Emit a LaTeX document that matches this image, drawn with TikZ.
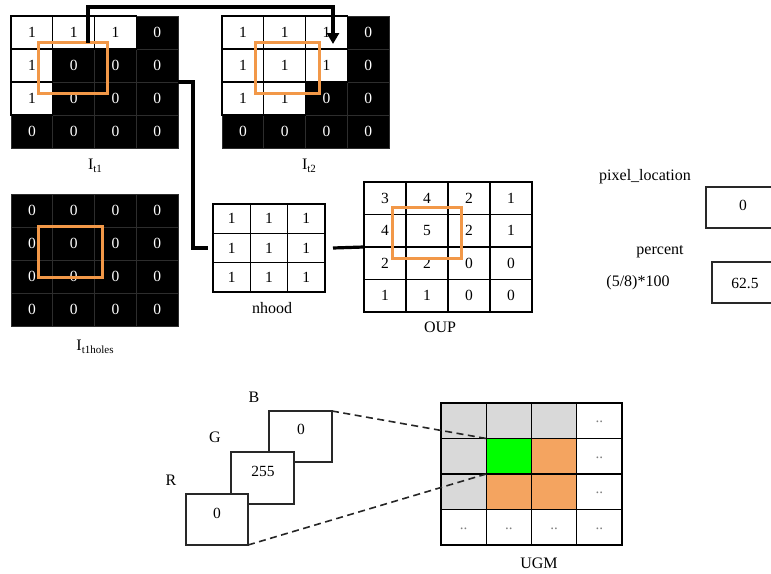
\documentclass[tikz,border=0pt]{standalone}
\usepackage{fontspec}
\setmainfont{Liberation Serif}
\usetikzlibrary{arrows.meta}

\definecolor{hiorange}{RGB}{242,152,72}
\definecolor{faintline}{RGB}{45,45,45}
\definecolor{boxline}{RGB}{40,40,40}
\colorlet{ugm-g}{black!15}
\definecolor{ugm-G}{RGB}{0,255,0}
\definecolor{ugm-o}{RGB}{244,164,96}
\colorlet{ugm-w}{white}

\newcommand{\digitfont}{\fontsize{15.5}{17}\selectfont}
\newcommand{\capfont}{\fontsize{16}{18}\selectfont}
\newcommand{\lowsub}[1]{\raisebox{-0.45ex}{\fontsize{11}{12}\selectfont #1}}

\tikzset{
  bincell/.style={minimum width=41.75pt, minimum height=33pt, inner sep=0pt,
    outer sep=0pt, font=\digitfont},
  numcell/.style={draw=black, fill=white, line width=1.4pt, inner sep=0pt,
    outer sep=0pt, font=\digitfont},
  gridframe/.style={inner sep=0pt, outer sep=0pt},
  hibox/.style={draw=hiorange, line width=3pt, inner sep=0pt, outer sep=0pt},
  figlabel/.style={inner sep=0pt, font=\capfont},
  valbox/.style={draw=boxline, fill=white, line width=1.6pt, inner sep=0pt, outer sep=0pt},
  valtext/.style={inner sep=0pt, font=\digitfont},
  conn/.style={draw=black, line width=3.2pt},
  dashline/.style={draw=black!85, line width=1.6pt, dash pattern=on 7pt off 4.5pt},
}

% binary 4x4 image: 0 = black pixel, 1 = white pixel
\newcommand{\bingrid}[4]{%
  \foreach \row [count=\j from 0] in {#4} {
    \foreach \v [count=\i from 0] in \row {
      \ifnum\v=0
        \node[bincell, fill=black, draw=faintline, line width=0.8pt, text=white]
          (#1-\i-\j) at ({#2+(\i+0.5)*41.75},{#3+(\j+0.5)*33}) {\v};
      \fi
    }
  }
  \foreach \row [count=\j from 0] in {#4} {
    \foreach \v [count=\i from 0] in \row {
      \ifnum\v=1
        \node[bincell, fill=white, draw=black, line width=1.4pt, text=black]
          (#1-\i-\j) at ({#2+(\i+0.5)*41.75},{#3+(\j+0.5)*33}) {\v};
      \fi
    }
  }
  \node[gridframe, minimum width=167pt, minimum height=132pt] (#1)
    at ({#2+83.5},{#3+66}) {};
}

% numeric grid: name, left, top, cell width, cell height, cols, rows, values
\newcommand{\numgrid}[8]{%
  \foreach \row [count=\j from 0] in {#8} {
    \foreach \v [count=\i from 0] in \row {
      \node[numcell, minimum width=#4pt, minimum height=#5pt]
        (#1-\i-\j) at ({#2+(\i+0.5)*#4},{#3+(\j+0.5)*#5}) {\v};
    }
  }
  \node[gridframe, minimum width={#6*#4pt}, minimum height={#7*#5pt}] (#1)
    at ({#2+#6*#4/2},{#3+#7*#5/2}) {};
}

\begin{document}
\begin{tikzpicture}[x=1pt, y=-1pt]
\useasboundingbox (0,0) rectangle (771,573);
\clip (0,0) rectangle (771,573);

% binary images
\bingrid{It1}{11}{16}{{1,1,1,0},{1,0,0,0},{1,0,0,0},{0,0,0,0}}
\bingrid{It2}{222}{16}{{1,1,1,0},{1,1,1,0},{1,1,0,0},{0,0,0,0}}
\bingrid{Ithol}{11}{194}{{0,0,0,0},{0,0,0,0},{0,0,0,0},{0,0,0,0}}

% neighbourhood and output grids
\numgrid{nhood}{213}{204}{37.33}{29.33}{3}{3}{{1,1,1},{1,1,1},{1,1,1}}
\numgrid{OUP}{364}{182}{42}{32.5}{4}{4}{{3,4,2,1},{4,5,2,1},{2,2,0,0},{1,1,0,0}}

% 3x3 windows
\node[hibox, minimum width=69pt, minimum height=51pt] (It1-win) at (72.5,67.5) {};
\node[hibox, minimum width=64pt, minimum height=51pt] (It2-win) at (287,67.5) {};
\node[hibox, minimum width=64pt, minimum height=51pt] (Ithol-win) at (70,251.5) {};
\node[hibox, minimum width=69pt, minimum height=51pt] (OUP-win) at (426.5,232.5) {};

% captions
\node[figlabel] (It1-cap) at (95,166) {I\lowsub{t1}};
\node[figlabel] (It2-cap) at (309,166) {I\lowsub{t2}};
\node[figlabel] (Ithol-cap) at (95,347) {I\lowsub{t1holes}};
\node[figlabel] (nhood-cap) at (272,308) {nhood};
\node[figlabel] (OUP-cap) at (440,327) {OUP};

% connectors
\coordinate (arrowstart) at (88,43);
\coordinate (arrowtop) at (210,7);
\coordinate (arrowend) at (333,44);
\draw[conn, line join=miter, -{Triangle[width=12pt,length=11pt]}]
  (arrowstart) |- (arrowtop) -| (arrowend);
\draw[conn] (It1.east) -- ++(15,0) |- ([xshift=-5pt]nhood.west);
\draw[conn] ([xshift=8pt]nhood.east) -- (OUP.west);

% result values
\node[figlabel] (pixloc-cap) at (645,177) {pixel\_location};
\node[valbox, minimum width=84pt, minimum height=41pt] (pixbox) at (748,207.5) {};
\node[valtext] (pixval) at (743,205) {0};
\node[figlabel] (pct-cap) at (660,252) {percent};
\node[figlabel] (pct-formula) at (638,283) {(5/8)*100};
\node[valbox, minimum width=78pt, minimum height=41pt] (pctbox) at (751,282.5) {};
\node[valtext] (pctval) at (745,283) {62.5};

% colour channels
\node[valbox, minimum width=63pt, minimum height=51pt] (Bbox) at (300.5,436.5) {};
\node[valtext] (Bval) at (301,429) {0};
\node[valbox, minimum width=63pt, minimum height=52pt] (Gbox) at (262.5,478) {};
\node[valtext] (Gval) at (263,471) {255};
\node[valbox, minimum width=62pt, minimum height=51pt] (Rbox) at (217,519.5) {};
\node[valtext] (Rval) at (217,513) {0};
\node[figlabel] (B-cap) at (254,397) {B};
\node[figlabel] (G-cap) at (215,437) {G};
\node[figlabel] (R-cap) at (171,480) {R};

% UGM grid
\foreach \row [count=\j from 0] in {{g,g,g,w},{g,G,o,w},{g,o,o,w},{w,w,w,w}} {
  \foreach \v [count=\i from 0] in \row {
    \node[numcell, fill=ugm-\v, minimum width=45.25pt, minimum height=35.5pt,
      font=\fontsize{15}{15}\selectfont, text=black!50]
      (UGM-\i-\j) at ({441+(\i+0.5)*45.25},{403+(\j+0.5)*35.5})
      {\if w\v\raisebox{-4pt}{..}\fi};
  }
}
\node[gridframe, minimum width=181pt, minimum height=142pt] (UGM) at (531.5,474) {};
\node[figlabel] (UGM-cap) at (539,563) {UGM};

\draw[dashline] (Bbox.north east) -- (UGM-1-1.north west);
\draw[dashline] (Rbox.south east) -- (UGM-1-1.south west);
\end{tikzpicture}
\end{document}
